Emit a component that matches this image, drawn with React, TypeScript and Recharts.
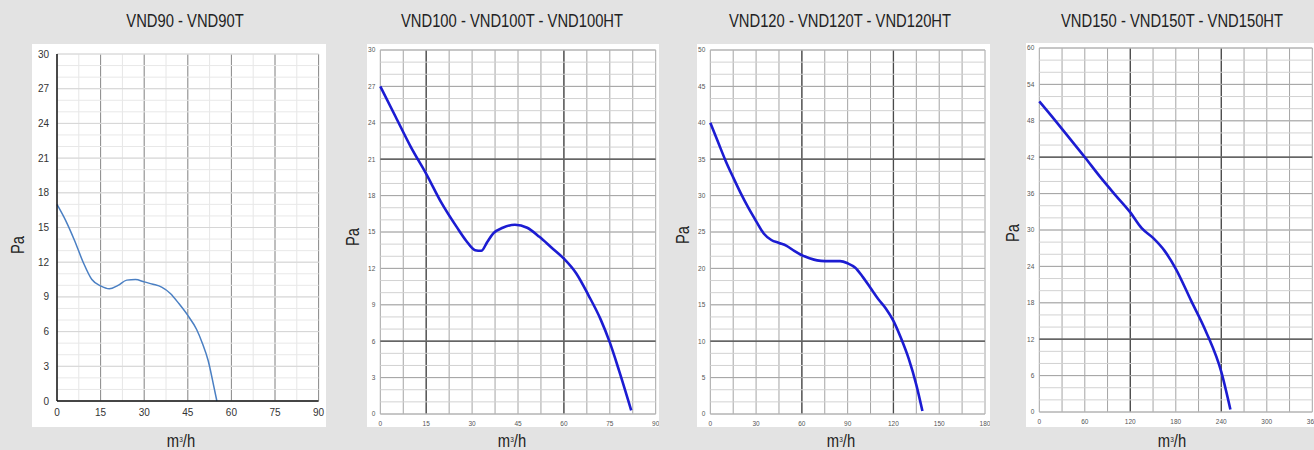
import React from 'react'
import { LineChart, Line, XAxis, YAxis, CartesianGrid } from 'recharts'

const FONT = '"Liberation Sans", Arial, sans-serif'

// VND90 - VND90T
const flow90 = [0, 3, 6, 9, 12, 15, 18, 21, 24, 27, 30, 33, 36, 39, 42, 45, 48, 50, 52, 54, 55]
const pa90 = [17, 15.6, 13.9, 12.0, 10.5, 9.95, 9.7, 10.0, 10.45, 10.5, 10.3, 10.1, 9.85, 9.3, 8.4, 7.4, 6.2, 5.0, 3.5, 1.2, 0]
const xTicks90 = [0, 15, 30, 45, 60, 75, 90]
const yTicks90 = [0, 3, 6, 9, 12, 15, 18, 21, 24, 27, 30]

// VND100 - VND100T - VND100HT
const flow100 = [0, 5, 10, 15, 20, 25, 28, 31, 33, 35, 37, 40, 44, 48, 52, 56, 60, 64, 68, 72, 75, 78, 82]
const pa100 = [27, 24.5, 22, 19.8, 17.4, 15.4, 14.3, 13.5, 13.45, 14.2, 14.9, 15.35, 15.6, 15.35, 14.6, 13.7, 12.8, 11.6, 9.8, 7.8, 5.9, 3.6, 0.3]
const xTicks100 = [0, 15, 30, 45, 60, 75, 90]
const yTicks100 = [0, 3, 6, 9, 12, 15, 18, 21, 24, 27, 30]

// VND120 - VND120T - VND120HT
const flow120 = [0, 5, 10, 15, 20, 25, 30, 35, 40, 45, 50, 55, 60, 65, 70, 75, 80, 85, 90, 95, 100, 105, 110, 115, 120, 125, 130, 135, 139]
const pa120 = [40, 37.4, 34.8, 32.5, 30.3, 28.3, 26.5, 24.8, 23.9, 23.5, 23.1, 22.4, 21.8, 21.4, 21.1, 21.0, 21.0, 21.0, 20.7, 20.1, 18.8, 17.3, 15.8, 14.5, 12.8, 10.4, 7.6, 4.0, 0.4]
const xTicks120 = [0, 30, 60, 90, 120, 150, 180]
const yTicks120 = [0, 5, 10, 15, 20, 25, 30, 35, 40, 45, 50]

// VND150 - VND150T - VND150HT
const flow150 = [0, 20, 40, 60, 80, 100, 120, 135, 150, 165, 180, 200, 220, 240, 252]
const pa150 = [51.2, 48.2, 45.1, 42.0, 38.8, 35.8, 32.9, 30.3, 28.7, 26.6, 23.6, 18.4, 13.2, 6.6, 0.4]
const xTicks150 = [0, 60, 120, 180, 240, 300, 360]
const yTicks150 = [0, 6, 12, 18, 24, 30, 36, 42, 48, 54, 60]

const steps = (max: number, step: number) => {
  const out: number[] = []
  for (let v = 0; v <= max + 1e-9; v += step) out.push(Math.round(v * 1000) / 1000)
  return out
}

type Grid = { values: number[]; stroke: string; width: number }

interface PanelProps {
  title: string
  box: { left: number; top: number; width: number; height: number }
  pad: { top: number; right: number; yAxis: number; xAxis: number }
  flow: number[]
  pa: number[]
  xTicks: number[]
  yTicks: number[]
  vGrid: Grid[]
  hGrid: Grid[]
  color: string
  lineWidth: number
  tickFont: number
  tickColor: string
  tickGapX: number
  tickGapY: number
  blackAxes?: boolean
  titleX: number
  paPos: [number, number]
  unitX: number
}

// narrow look: regular sans squeezed horizontally
const narrow = (extra: string) => `translate(-50%, -50%) ${extra} scaleX(0.82)`

function Panel(p: PanelProps) {
  const data = p.flow.map((f, i) => ({ flow: f, pa: p.pa[i] }))
  const xMax = p.xTicks[p.xTicks.length - 1]
  const yMax = p.yTicks[p.yTicks.length - 1]
  const tick = { fontSize: p.tickFont, fill: p.tickColor, fontFamily: FONT }
  const axisLine = p.blackAxes ? { stroke: '#111', strokeWidth: 1.5 } : false
  return (
    <>
      <div style={{ position: 'absolute', left: p.titleX, top: 21, transform: narrow(''), fontFamily: FONT, fontSize: 18, color: '#222', whiteSpace: 'nowrap' }}>
        {p.title}
      </div>
      <div style={{ position: 'absolute', left: p.paPos[0], top: p.paPos[1], transform: narrow('rotate(-90deg)'), fontFamily: FONT, fontSize: 18, color: '#222' }}>
        Pa
      </div>
      <div style={{ position: 'absolute', left: p.unitX, top: 441, transform: narrow(''), fontFamily: FONT, fontSize: 18, color: '#222', whiteSpace: 'nowrap' }}>
        m<span style={{ fontSize: 8, verticalAlign: 5 }}>3</span>/h
      </div>
      <div style={{ position: 'absolute', left: p.box.left, top: p.box.top, width: p.box.width, height: p.box.height, background: '#fff', overflow: 'visible' }}>
        <LineChart
          width={p.box.width}
          height={p.box.height}
          data={data}
          margin={{ top: p.pad.top, right: p.pad.right, left: 0, bottom: 0 }}
          style={{ overflow: 'visible' }}
        >
          {p.vGrid.map((g, i) => (
            <CartesianGrid key={'v' + i} horizontal={false} verticalValues={g.values} stroke={g.stroke} strokeWidth={g.width} />
          ))}
          {p.hGrid.map((g, i) => (
            <CartesianGrid key={'h' + i} vertical={false} horizontalValues={g.values} stroke={g.stroke} strokeWidth={g.width} />
          ))}
          <XAxis
            dataKey="flow"
            type="number"
            domain={[0, xMax]}
            ticks={p.xTicks}
            height={p.pad.xAxis}
            tickSize={0}
            tickMargin={p.tickGapX}
            tick={tick}
            axisLine={axisLine}
            interval={0}
          />
          <YAxis
            type="number"
            domain={[0, yMax]}
            ticks={p.yTicks}
            width={p.pad.yAxis}
            tickSize={0}
            tickMargin={p.tickGapY}
            tick={tick}
            axisLine={axisLine}
            interval={0}
          />
          <Line
            type="monotone"
            dataKey="pa"
            stroke={p.color}
            strokeWidth={p.lineWidth}
            dot={false}
            isAnimationActive={false}
          />
        </LineChart>
      </div>
    </>
  )
}

const LIGHT = '#d2d2d2'
const MID = '#a4a4a4'
const DARK = '#4a4a4a'

export default function App() {
  return (
    <div style={{ position: 'absolute', left: 0, top: 0, width: 1314, height: 450, background: '#e3e3e3', overflow: 'hidden' }}>
      <Panel
        title="VND90 - VND90T"
        box={{ left: 32, top: 44, width: 294, height: 383 }}
        pad={{ top: 10, right: 7.4, yAxis: 25, xAxis: 26 }}
        flow={flow90}
        pa={pa90}
        xTicks={xTicks90}
        yTicks={yTicks90}
        vGrid={[
          { values: steps(90, 7.5), stroke: '#e6e6e6', width: 1 },
          { values: [15, 30, 45, 60, 75, 90], stroke: '#8a8a8a', width: 1 },
        ]}
        hGrid={[
          { values: steps(30, 1), stroke: '#e8e8e8', width: 1 },
          { values: yTicks90, stroke: '#d6d6d6', width: 1 },
        ]}
        color="#4a7fc3"
        lineWidth={1.5}
        tickFont={10}
        tickColor="#333"
        tickGapX={8}
        tickGapY={8}
        blackAxes
        titleX={185}
        paPos={[18, 245]}
        unitX={181}
      />
      <Panel
        title="VND100 - VND100T - VND100HT"
        box={{ left: 367, top: 44, width: 292, height: 383 }}
        pad={{ top: 6, right: 3.3, yAxis: 13.3, xAxis: 13 }}
        flow={flow100}
        pa={pa100}
        xTicks={xTicks100}
        yTicks={yTicks100}
        vGrid={[
          { values: steps(90, 7.5), stroke: MID, width: 1 },
          { values: [15, 60], stroke: DARK, width: 1.3 },
        ]}
        hGrid={[
          { values: steps(30, 1), stroke: LIGHT, width: 1 },
          { values: yTicks100, stroke: MID, width: 1 },
          { values: [6, 21], stroke: DARK, width: 1.3 },
        ]}
        color="#1c1cd2"
        lineWidth={2.6}
        tickFont={6.5}
        tickColor="#555"
        tickGapX={7}
        tickGapY={5}
        titleX={512}
        paPos={[353, 237]}
        unitX={512}
      />
      <Panel
        title="VND120 - VND120T - VND120HT"
        box={{ left: 697, top: 44, width: 293, height: 383 }}
        pad={{ top: 6, right: 5, yAxis: 13.3, xAxis: 13 }}
        flow={flow120}
        pa={pa120}
        xTicks={xTicks120}
        yTicks={yTicks120}
        vGrid={[
          { values: steps(180, 15), stroke: MID, width: 1 },
          { values: [60, 120], stroke: DARK, width: 1.3 },
        ]}
        hGrid={[
          { values: steps(50, 5 / 3), stroke: LIGHT, width: 1 },
          { values: yTicks120, stroke: MID, width: 1 },
          { values: [10, 35], stroke: DARK, width: 1.3 },
        ]}
        color="#1c1cd2"
        lineWidth={2.6}
        tickFont={6.5}
        tickColor="#555"
        tickGapX={7}
        tickGapY={5}
        titleX={840}
        paPos={[683, 235]}
        unitX={841}
      />
      <Panel
        title="VND150 - VND150T - VND150HT"
        box={{ left: 1026, top: 43, width: 288, height: 384 }}
        pad={{ top: 5, right: 1.7, yAxis: 13.3, xAxis: 15 }}
        flow={flow150}
        pa={pa150}
        xTicks={xTicks150}
        yTicks={yTicks150}
        vGrid={[
          { values: steps(360, 30), stroke: MID, width: 1 },
          { values: [120, 240], stroke: DARK, width: 1.3 },
        ]}
        hGrid={[
          { values: steps(60, 2), stroke: LIGHT, width: 1 },
          { values: yTicks150, stroke: MID, width: 1 },
          { values: [12, 42], stroke: DARK, width: 1.3 },
        ]}
        color="#1c1cd2"
        lineWidth={2.6}
        tickFont={6.5}
        tickColor="#555"
        tickGapX={7}
        tickGapY={5}
        titleX={1172}
        paPos={[1013, 233]}
        unitX={1172}
      />
    </div>
  )
}
